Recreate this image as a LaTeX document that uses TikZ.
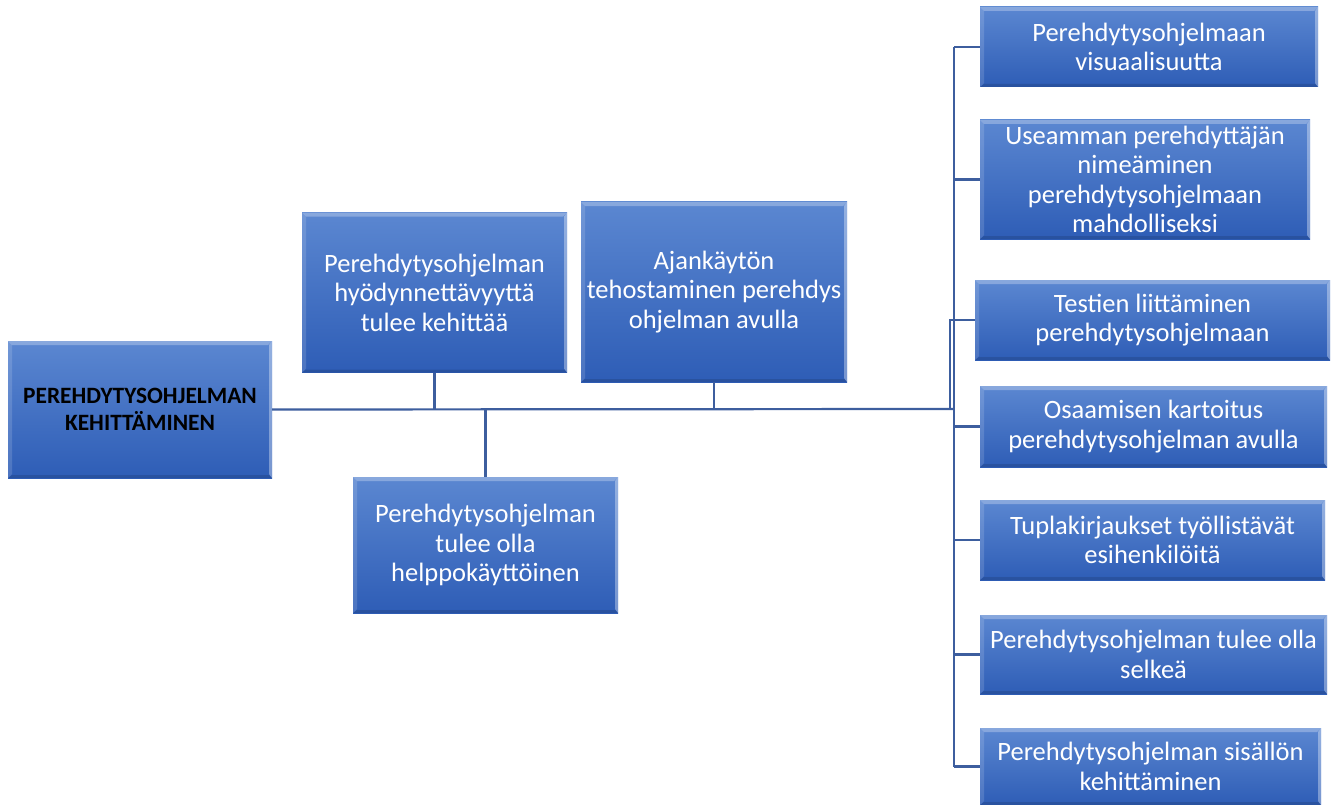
\documentclass[tikz,border=0pt]{standalone}
\usepackage{fontspec}
\setmainfont{Carlito}
\begin{document}
\definecolor{boxtop}{HTML}{5B87D1}
\definecolor{boxbot}{HTML}{2E5DB6}
\definecolor{linecol}{HTML}{3D5E9E}
\begin{tikzpicture}[x=1pt,y=-1pt,
  box/.style={rectangle, inner sep=1pt, top color=boxtop, bottom color=boxbot,
    text=white, align=center,
    font=\fontsize{26.5}{29.5}\selectfont,
    path picture={
      \fill[white,opacity=0.28] (path picture bounding box.north west) -- (path picture bounding box.north east)
        -- ([shift={(-4pt,-4pt)}]path picture bounding box.north east) -- ([shift={(4pt,-4pt)}]path picture bounding box.north west) -- cycle;
      \fill[white,opacity=0.14] (path picture bounding box.north west) -- ([shift={(4pt,-4pt)}]path picture bounding box.north west)
        -- ([shift={(4pt,4pt)}]path picture bounding box.south west) -- (path picture bounding box.south west) -- cycle;
      \fill[white,opacity=0.35] (path picture bounding box.north east) -- ([shift={(-3pt,-4pt)}]path picture bounding box.north east)
        -- ([shift={(-3pt,4pt)}]path picture bounding box.south east) -- (path picture bounding box.south east) -- cycle;
      \fill[black,opacity=0.12] (path picture bounding box.south west) -- (path picture bounding box.south east)
        -- ([shift={(-3pt,3pt)}]path picture bounding box.south east) -- ([shift={(4pt,3pt)}]path picture bounding box.south west) -- cycle;
    }},
  rootbox/.style={box, text=black, font=\fontsize{23.4}{27}\selectfont\bfseries},
  conn/.style={draw=linecol, line width=2.2pt}]
\useasboundingbox (0,0) rectangle (1335,805);

% root and middle topics
\node[rootbox, minimum width=264pt, minimum height=137pt] (root) at (140,409.5)
  {PEREHDYTYSOHJELMAN\\KEHITTÄMINEN};
\node[box, minimum width=265pt, minimum height=160pt] (use) at (434.5,292.5)
  {Perehdytysohjelman\\hyödynnettävyyttä\\tulee kehittää};
\node[box, minimum width=266pt, minimum height=180pt] (time) at (714,292)
  {Ajankäytön\\tehostaminen perehdys\\ohjelman avulla};
\node[box, minimum width=265pt, minimum height=136pt] (easy) at (485.5,545)
  {Perehdytysohjelman\\tulee olla\\helppokäyttöinen};

% right column
\node[box, minimum width=338pt, minimum height=80pt] (r1) at (1149,47)
  {Perehdytysohjelmaan\\visuaalisuutta};
\node[box, minimum width=330pt, minimum height=119pt] (r2) at (1145,179.5)
  {Useamman perehdyttäjän\\nimeäminen\\perehdytysohjelmaan\\mahdolliseksi};
\node[box, minimum width=355pt, minimum height=80pt] (r3) at (1152.5,320)
  {Testien liittäminen\\perehdytysohjelmaan};
\node[box, minimum width=347pt, minimum height=81pt] (r4) at (1153.5,426.5)
  {Osaamisen kartoitus\\perehdytysohjelman avulla};
\node[box, minimum width=345pt, minimum height=80pt] (r5) at (1152.5,540)
  {Tuplakirjaukset työllistävät\\esihenkilöitä};
\node[box, minimum width=347pt, minimum height=79pt] (r6) at (1153.5,654.5)
  {Perehdytysohjelman tulee olla\\selkeä};
\node[box, minimum width=341pt, minimum height=77pt] (r7) at (1150.5,766.5)
  {Perehdytysohjelman sisällön\\kehittäminen};

% connector junctions
\coordinate (spine) at (954,409);
\coordinate (jog) at (950,409);

% main trunk
\draw[conn] (root.east) -- (spine);
\draw[conn] (use.south) -- (use.south |- spine);
\draw[conn] (time.south) -- (time.south |- spine);
\draw[conn] (easy.north) -- (easy.north |- spine);

% right spine and branches
\draw[conn] (r1.west -| spine) -- (r7.west -| spine);
\foreach \n in {r1,r2,r4,r5,r6,r7}
  \draw[conn] (\n.west) -- (\n.west -| spine);
\draw[conn] (r3.west) -- (r3.west -| jog) -- (jog);
\end{tikzpicture}
\end{document}
